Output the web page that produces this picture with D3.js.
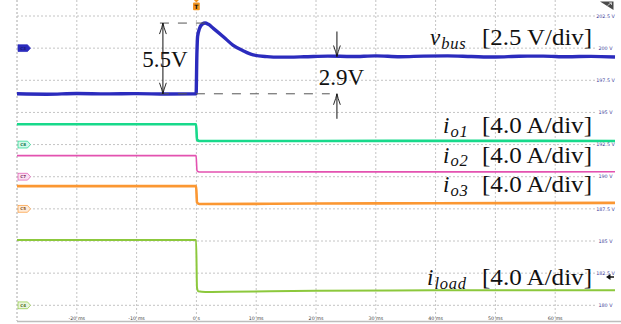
<!DOCTYPE html>
<html>
<head>
<meta charset="utf-8">
<script src="https://cdn.jsdelivr.net/npm/d3@7"></script>
<style>
  html, body { margin: 0; padding: 0; background: #fff; }
  svg { display: block; }
</style>
</head>
<body>
<svg id="scope" width="621" height="324"></svg>
<script>
// ---- time axis (ms) ----
const timeTicks = [-20, -10, 0, 10, 20, 30, 40, 50, 60];
const timeTickLabels = ["-20 ms", "-10 ms", "0 s", "10 ms", "20 ms", "30 ms", "40 ms", "50 ms", "60 ms"];

// ---- right-hand voltage scale (bus channel, 2.5 V/div) ----
const voltTicks = [180, 182.5, 185, 187.5, 190, 192.5, 195, 197.5, 200, 202.5];
const voltTickLabels = ["180 V", "182.5 V", "185 V", "187.5 V", "190 V", "192.5 V", "195 V", "197.5 V", "200 V", "202.5 V"];

// ---- bus voltage v_bus (ms, V) ----
const vbusTime  = [-30, -25, -20, -15, -10, -5, -0.05, 0.08, 0.2, 0.5, 1.0, 1.44, 2.0, 2.83, 4.5, 6.1, 7.8, 9.5, 11.8, 14, 18, 22, 26, 30, 34, 38, 42, 46, 50, 54, 58, 62, 66, 70];
const vbusValue = [196.45, 196.42, 196.47, 196.44, 196.46, 196.43, 196.45, 199.5, 200.9, 201.5, 201.88, 201.95, 201.85, 201.54, 200.89, 200.24, 199.8, 199.47, 199.34, 199.3, 199.33, 199.38, 199.35, 199.4, 199.33, 199.38, 199.4, 199.35, 199.31, 199.37, 199.38, 199.33, 199.36, 199.31];

// ---- output currents (ms, A), 4.0 A/div ----
const io1Time  = [-30, -0.05, 0.1, 0.5, 20, 45, 70];
const io1Value = [2.53, 2.53, 0.6, 0.45, 0.45, 0.46, 0.45];

const io2Time  = [-30, -0.05, 0.1, 0.5, 20, 45, 70];
const io2Value = [2.62, 2.62, 0.75, 0.59, 0.6, 0.6, 0.61];

const io3Time  = [-30, -0.05, 0.1, 0.5, 20, 40, 70];
const io3Value = [2.83, 2.83, 0.8, 0.6, 0.66, 0.7, 0.74];

const iloadTime  = [-30, -0.05, 0.1, 0.3, 1.5, 5, 20, 40, 70];
const iloadValue = [8.14, 8.14, 2.2, 1.75, 1.66, 1.68, 1.8, 1.86, 1.88];

// ---- step annotations (V) ----
const vbusBefore = 196.45;
const overshoot = 5.5;
const settledRise = 2.9;

// channel settings: colour, trace width, zero offset (in bus-volt equivalents), tag
const channels = [
  { key: "vbus",  time: vbusTime,  value: vbusValue,  color: "#2b2bbd", width: 3.4, voltsPerUnit: 1,     offset: 0,     tagLevel: 200,   tag: "C3", filled: true },
  { key: "io1",   time: io1Time,   value: io1Value,   color: "#18d98b", width: 2.6, voltsPerUnit: 0.625, offset: 192.5, tagLevel: 192.5, tag: "C8" },
  { key: "io2",   time: io2Time,   value: io2Value,   color: "#e352b0", width: 1.6, voltsPerUnit: 0.625, offset: 190,   tagLevel: 190,   tag: "C7" },
  { key: "io3",   time: io3Time,   value: io3Value,   color: "#fb9732", width: 2.6, voltsPerUnit: 0.625, offset: 187.5, tagLevel: 187.5, tag: "C5" },
  { key: "iload", time: iloadTime, value: iloadValue, color: "#8cc83c", width: 2.0, voltsPerUnit: 0.625, offset: 180,   tagLevel: 180,   tag: "C4" }
];

// ---- layout ----
const W = 621, H = 324;
const x = d3.scaleLinear().domain([-30, 70]).range([17, 615]);
const y = d3.scaleLinear().domain([180, 202.5]).range([305.3, 16]);

const svg = d3.select("#scope");
svg.append("rect").attr("width", W).attr("height", H).attr("fill", "#fff");

// grid
const grid = svg.append("g");
grid.selectAll("line.v").data([-30].concat(timeTicks)).join("line")
  .attr("x1", d => x(d)).attr("x2", d => x(d))
  .attr("y1", 0).attr("y2", 321)
  .attr("stroke", (d, i) => i === 0 ? "#a8a8a8" : "#c4c4c4")
  .attr("stroke-width", 1)
  .attr("stroke-dasharray", "2,2");
grid.selectAll("line.h").data(voltTicks).join("line")
  .attr("x1", x(-30)).attr("x2", 597)
  .attr("y1", d => y(d)).attr("y2", d => y(d))
  .attr("stroke", "#c4c4c4")
  .attr("stroke-width", 1)
  .attr("stroke-dasharray", "2,2");

// bottom frame line
svg.append("line").attr("x1", x(-30)).attr("x2", W).attr("y1", 321.5).attr("y2", 321.5)
  .attr("stroke", "#bdbdbd").attr("stroke-width", 1.5);

// time tick labels
svg.append("g").selectAll("text").data(timeTicks).join("text")
  .attr("x", d => x(d)).attr("y", 319.5)
  .attr("text-anchor", "middle")
  .attr("font-family", "DejaVu Sans, sans-serif")
  .attr("font-size", 4.8)
  .attr("fill", "#444")
  .text((d, i) => timeTickLabels[i]);

// right-hand voltage labels
svg.append("g").selectAll("text").data(voltTicks).join("text")
  .attr("x", 605.5).attr("y", d => y(d) + 1.7)
  .attr("text-anchor", "middle")
  .attr("font-family", "DejaVu Sans, sans-serif")
  .attr("font-size", 4.8)
  .attr("fill", "#3a3a96")
  .text((d, i) => voltTickLabels[i]);

// traces
const traces = svg.append("g");
channels.forEach(ch => {
  const pts = ch.time.map((t, i) => [t, ch.offset + ch.value[i] * ch.voltsPerUnit]);
  const line = d3.line().x(d => x(d[0])).y(d => y(d[1])).curve(d3.curveMonotoneX);
  traces.append("path")
    .attr("d", line(pts))
    .attr("fill", "none")
    .attr("stroke", ch.color)
    .attr("stroke-width", ch.width)
    .attr("stroke-linejoin", "round");
});

// channel tags on the left edge
const tags = svg.append("g");
channels.forEach(ch => {
  const cy = y(ch.tagLevel);
  const x0 = 18;
  tags.append("path")
    .attr("d", `M${x0},${cy - 3.4} h9.5 l3,3.4 l-3,3.4 h-9.5 z`)
    .attr("fill", ch.filled ? ch.color : d3.interpolateRgb(ch.color, "#fff")(0.82))
    .attr("stroke", ch.color)
    .attr("stroke-width", 0.7);
  tags.append("text")
    .attr("x", x0 + 5.2).attr("y", cy + 1.5)
    .attr("text-anchor", "middle")
    .attr("font-family", "DejaVu Sans, sans-serif")
    .attr("font-size", 4)
    .attr("font-weight", "bold")
    .attr("fill", ch.filled ? "#1a1a70" : d3.interpolateRgb(ch.color, "#000")(0.45))
    .text(ch.tag);
});

// trigger marker at t = 0
const tx = x(0);
svg.append("path").attr("d", `M${tx - 2.5},0 h5 l-2.5,2.6 z`).attr("fill", "#f29420");
svg.append("rect").attr("x", tx - 3.4).attr("y", 2.6).attr("width", 6.8).attr("height", 7.6)
  .attr("rx", 1).attr("fill", "#f29420");
svg.append("text").attr("x", tx).attr("y", 8.9).attr("text-anchor", "middle")
  .attr("font-family", "DejaVu Sans, sans-serif").attr("font-size", 6).attr("font-weight", "bold")
  .attr("fill", "#111").text("T");

// corner icon (top right)
svg.append("path").attr("d", "M600,1.5 H613.5 V10 Z").attr("fill", "#4a4a4a");
svg.append("path").attr("d", "M607.5,5.5 L611.5,2.8 M609.2,2.8 H611.5 V5").attr("stroke", "#ddd")
  .attr("stroke-width", 0.8).attr("fill", "none");

// reference arrow (right edge)
svg.append("path").attr("d", "M606,277 l4.5,-3 v2.2 h3.5 v1.6 h-3.5 v2.2 z").attr("fill", "#111");

// ---- step annotations ----
const ann = svg.append("g").attr("stroke", "#111").attr("fill", "none");
const yBefore = y(vbusBefore);
const yPeak = y(vbusBefore + overshoot);
const ySettled = y(vbusBefore + settledRise);

function arrowHead(g, xTip, yTip, dir) {
  // dir = -1 points up, +1 points down
  g.append("path")
    .attr("d", `M${xTip - 3.4},${yTip - dir * 11} Q${xTip - 0.8},${yTip - dir * 4} ${xTip},${yTip} Q${xTip + 0.8},${yTip - dir * 4} ${xTip + 3.4},${yTip - dir * 11}`)
    .attr("stroke-width", 0.9);
}

// dashed reference levels
ann.append("line").attr("x1", x(-6.1)).attr("x2", x(1.5)).attr("y1", yPeak).attr("y2", yPeak)
  .attr("stroke", "#555").attr("stroke-width", 1).attr("stroke-dasharray", "9,9");
ann.append("line").attr("x1", x(-6.1)).attr("x2", x(22.3)).attr("y1", yBefore).attr("y2", yBefore)
  .attr("stroke", "#555").attr("stroke-width", 1).attr("stroke-dasharray", "9,9");

// overshoot double arrow
const xa = x(-5.6);
ann.append("line").attr("x1", xa).attr("x2", xa).attr("y1", yPeak).attr("y2", yBefore).attr("stroke-width", 1);
arrowHead(ann, xa, yPeak, -1);
arrowHead(ann, xa, yBefore, 1);

// settled-rise arrows (outside pointing in)
const xb = x(23.5);
ann.append("line").attr("x1", xb).attr("x2", xb).attr("y1", ySettled - 25).attr("y2", ySettled).attr("stroke-width", 1);
arrowHead(ann, xb, ySettled, 1);
ann.append("line").attr("x1", xb).attr("x2", xb).attr("y1", yBefore + 25).attr("y2", yBefore).attr("stroke-width", 1);
arrowHead(ann, xb, yBefore, -1);

const serif = "Liberation Serif, Times New Roman, serif";
svg.append("text").attr("x", 165).attr("y", 66.5).attr("text-anchor", "middle")
  .attr("font-family", serif).attr("font-size", 23).attr("fill", "#111")
  .text(overshoot.toFixed(1) + "V");
svg.append("text").attr("x", 341.5).attr("y", 85).attr("text-anchor", "middle")
  .attr("font-family", serif).attr("font-size", 23).attr("fill", "#111")
  .text(settledRise.toFixed(1) + "V");

// ---- channel labels ----
const labels = [
  { main: "v", sub: "bus",  scale: "[2.5 V/div]", x: 430, base: 45 },
  { main: "i", sub: "o1",   scale: "[4.0 A/div]", x: 443, base: 133 },
  { main: "i", sub: "o2",   scale: "[4.0 A/div]", x: 443, base: 162.5 },
  { main: "i", sub: "o3",   scale: "[4.0 A/div]", x: 443, base: 192 },
  { main: "i", sub: "load", scale: "[4.0 A/div]", x: 427, base: 285 }
];
labels.forEach(l => {
  const t = svg.append("text").attr("x", l.x).attr("y", l.base)
    .attr("font-family", serif).attr("fill", "#111");
  t.append("tspan").attr("font-style", "italic").attr("font-size", 23).text(l.main);
  t.append("tspan").attr("font-style", "italic").attr("font-size", 16.5).attr("dy", 3.8)
    .attr("dx", 1).attr("letter-spacing", 0.8).text(l.sub);
  svg.append("text").attr("x", 592).attr("y", l.base).attr("text-anchor", "end")
    .attr("font-family", serif).attr("font-size", 23).attr("fill", "#111")
    .attr("textLength", 110).attr("lengthAdjust", "spacingAndGlyphs")
    .text(l.scale);
});
</script>
</body>
</html>
